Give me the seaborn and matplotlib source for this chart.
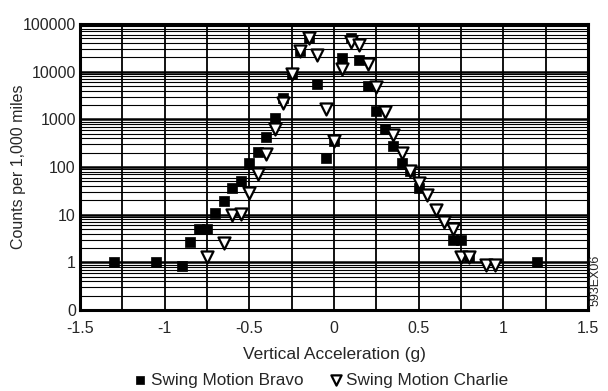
import matplotlib
matplotlib.use("Agg")
import matplotlib.pyplot as plt
import matplotlib.ticker as mticker
import seaborn as sns
import pandas as pd
import numpy as np

bravo_x = [-1.3, -1.05, -0.9, -0.85, -0.8, -0.75, -0.7, -0.65, -0.6, -0.55, -0.5, -0.45,
           -0.4, -0.35, -0.3, -0.25, -0.2, -0.15, -0.1, -0.05, 0.0, 0.05, 0.1, 0.15, 0.2,
           0.25, 0.3, 0.35, 0.4, 0.45, 0.5, 0.7, 0.75, 0.8, 1.2]
bravo_y = [1.0, 1.0, 0.83, 2.7, 4.9, 4.9, 11, 19.5, 36, 51, 121, 205,
           420, 1050, 2760, 8800, 27500, 51000, 5400, 155, 345, 19600, 51000, 17800, 4900,
           1470, 617, 275, 121, 83, 36, 2.9, 2.9, 1.27, 1.0]

charlie_x = [-0.75, -0.65, -0.6, -0.55, -0.5, -0.45, -0.4, -0.35, -0.3, -0.25, -0.2,
             -0.15, -0.1, -0.05, 0.0, 0.05, 0.1, 0.15, 0.2, 0.25, 0.3, 0.35, 0.4, 0.45,
             0.5, 0.55, 0.6, 0.65, 0.7, 0.75, 0.8, 0.9, 0.95]
charlie_y = [1.27, 2.5, 10, 10.5, 29, 72, 185, 615, 2150, 8800, 27500,
             51000, 22400, 1620, 345, 11500, 42000, 36000, 14700, 4700, 1400, 465, 195, 83,
             46, 26, 12.7, 7.1, 5.1, 1.27, 1.27, 0.87, 0.87]

series_names = ["Swing Motion Bravo", "Swing Motion Charlie"]
y_ticks = [0.1, 1, 10, 100, 1000, 10000, 100000]
y_tick_labels = ["0", "1", "10", "100", "1000", "10000", "100000"]
x_ticks = [-1.5, -1, -0.5, 0, 0.5, 1, 1.5]
x_tick_labels = ["-1.5", "-1", "-0.5", "0", "0.5", "1", "1.5"]

df = pd.concat([
    pd.DataFrame({"x": bravo_x, "y": bravo_y, "series": series_names[0]}),
    pd.DataFrame({"x": charlie_x, "y": charlie_y, "series": series_names[1]}),
], ignore_index=True)

sns.set_style("white")
plt.rcParams["font.family"] = ["Liberation Sans", "DejaVu Sans"]

fig = plt.figure(figsize=(6.08, 3.91), dpi=100)
ax = fig.add_axes([80/608, 1-310/391, (588-80)/608, (310-24)/391])

ax.set_yscale("log")
ax.set_xlim(-1.5, 1.5)
ax.set_ylim(0.1, 100000)

# grid
ax.yaxis.set_minor_locator(mticker.LogLocator(base=10, subs=np.arange(2, 10)))
ax.grid(True, which="major", axis="y", color="black", lw=1.8, zorder=0)
ax.grid(True, which="minor", axis="y", color="black", lw=0.8, zorder=0)
ax.xaxis.set_minor_locator(mticker.MultipleLocator(0.25))
ax.grid(True, which="both", axis="x", color="black", lw=1.3, zorder=0)

sub_b = df[df.series == series_names[0]]
sub_c = df[df.series == series_names[1]]
sns.scatterplot(data=sub_b, x="x", y="y", ax=ax, marker="s", s=55, color="black",
                edgecolor="black", linewidth=0.5, label=series_names[0], zorder=3)
sns.scatterplot(data=sub_c, x="x", y="y", ax=ax, marker="v", s=75, color="white",
                edgecolor="black", linewidth=1.6, label=series_names[1], zorder=4)

ax.set_yticks(y_ticks)
ax.set_yticklabels(y_tick_labels)
ax.set_xticks(x_ticks)
ax.set_xticklabels(x_tick_labels)
ax.tick_params(axis="y", which="major", labelsize=11.5, length=4, width=1.5,
               direction="inout", color="black", pad=1)
ax.tick_params(axis="x", which="major", labelsize=11.5, length=4, width=1.5,
               direction="inout", color="black", pad=6)
ax.tick_params(axis="y", which="minor", length=0)
ax.tick_params(axis="x", which="minor", length=4, width=1.5, direction="in")
ax.set_xlabel("Vertical Acceleration (g)", fontsize=12.5, labelpad=8)
ax.set_ylabel("Counts per 1,000 miles", fontsize=11.5, va="center")
ax.yaxis.set_label_coords((19 - 80) / 508, 0.5)

for sp in ax.spines.values():
    sp.set_visible(True)
    sp.set_color("black")
    sp.set_linewidth(2.2)

ax.legend_.remove()
handles, labels = ax.get_legend_handles_labels()
fig.legend(handles, labels, loc="center", bbox_to_anchor=(320/608, 1-380/391), ncol=2,
           frameon=False, fontsize=12.3, handletextpad=0.1, columnspacing=1.4,
           markerscale=0.85, borderpad=0.1, handlelength=1.0)

fig.text(596/608, 1-280/391, "593EX06", rotation=90, fontsize=9, ha="center", va="center")

fig.savefig("out.png", dpi=100)
